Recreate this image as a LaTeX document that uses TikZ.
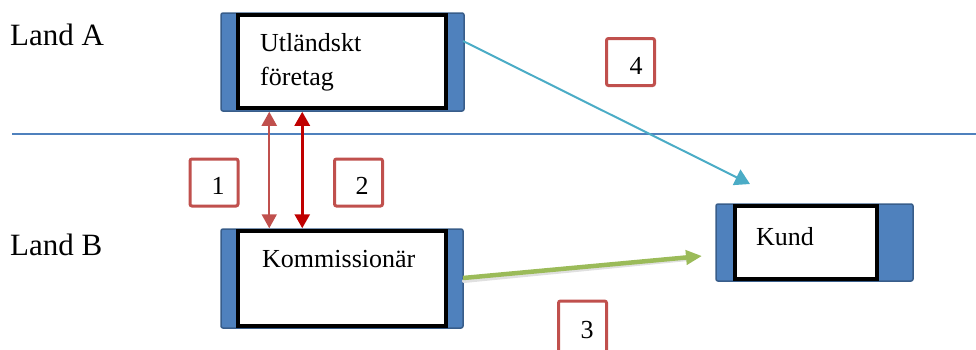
\documentclass[tikz,border=0pt]{standalone}
\usepackage{fontspec}
\setmainfont{Liberation Serif}
\usetikzlibrary{arrows.meta}
\definecolor{boxblue}{HTML}{4F81BD}
\definecolor{boxblueedge}{HTML}{385D8A}
\definecolor{labred}{HTML}{C0504D}
\definecolor{darkred}{HTML}{C00000}
\definecolor{flowgreen}{HTML}{9BBB59}
\definecolor{flowcyan}{HTML}{4BACC6}
\definecolor{sepblue}{HTML}{4F81BD}
\tikzset{
  outerbox/.style={draw=boxblueedge, line width=1.5pt, fill=boxblue, rounded corners=2pt, inner sep=0pt},
  innerbox/.style={draw=black, line width=4pt, fill=white, inner sep=0pt},
  numbox/.style={draw=labred, line width=3pt, fill=white, rounded corners=2pt, inner sep=0pt,
    minimum width=48pt, minimum height=47pt},
  boxtext/.style={font=\fontsize{26}{30}\selectfont, inner sep=0pt, anchor=base west},
  landtext/.style={font=\fontsize{31}{36}\selectfont, inner sep=0pt, anchor=base west},
  numtext/.style={font=\fontsize{26}{30}\selectfont, inner sep=0pt},
}
\begin{document}
\begin{tikzpicture}[x=1pt, y=-1pt]
\useasboundingbox (0,0) rectangle (976,349);

% country labels and border
\node[landtext] (landA) at (10,45) {Land A};
\node[landtext] (landB) at (10,255) {Land B};
\coordinate (sepL) at (12,134);
\coordinate (sepR) at (976,134);
\draw[sepblue, line width=1.3pt] (sepL) -- (sepR);

% foreign company
\node[outerbox, minimum width=243pt, minimum height=98pt] (A) at (342.5,62) {};
\node[innerbox, minimum width=208pt, minimum height=93pt] (Ai) at (342,61.5) {};
\node[boxtext] (At1) at (260,51) {Utländskt};
\node[boxtext] (At2) at (260,85) {företag};

% commission agent
\node[outerbox, minimum width=242pt, minimum height=99pt] (B) at (342,278.5) {};
\node[innerbox, minimum width=208pt, minimum height=95pt] (Bi) at (342,278.5) {};
\node[boxtext] (Bt) at (262,267) {Kommissionär};

% customer
\node[outerbox, minimum width=197pt, minimum height=77pt] (K) at (814.5,242.5) {};
\node[innerbox, minimum width=142pt, minimum height=73pt] (Ki) at (806,242.5) {};
\node[boxtext] (Kt) at (756,245) {Kund};

% flows between the parties
\draw[labred, line width=2pt, {Triangle[length=14pt,width=15pt]}-{Triangle[length=14pt,width=15pt]}]
  ([xshift=49pt]A.south west) -- ([xshift=49pt]B.north west);
\draw[darkred, line width=2.8pt, {Triangle[length=14pt,width=15pt]}-{Triangle[length=14pt,width=15pt]}]
  ([xshift=82pt]A.south west) -- ([xshift=82pt]B.north west);

\coordinate (gs) at (463,278);
\coordinate (ge) at (702,256);
\draw[black!12, line width=4pt, line cap=round] ([shift={(1,3)}]gs) -- ([shift={(-14,3)}]ge);
\draw[flowgreen, line width=4.5pt, -{Triangle[length=16pt,width=14pt]}] (gs) -- (ge);

\coordinate (cs) at (463,41);
\coordinate (ce) at (750,184);
\draw[flowcyan, line width=2pt, -{Triangle[length=15pt,width=17pt]}] (cs) -- (ce);

% numbered markers
\node[numbox] (n1) at (214,182.5) {};
\node[numtext] at (218,186) {1};
\node[numbox] (n2) at (358.5,182.5) {};
\node[numtext] at (362,186) {2};
\node[numbox, minimum height=60pt] (n3) at (582.5,331) {};
\node[numtext] at (587,330) {3};
\node[numbox] (n4) at (630.5,62) {};
\node[numtext] at (636,66) {4};
\end{tikzpicture}
\end{document}
